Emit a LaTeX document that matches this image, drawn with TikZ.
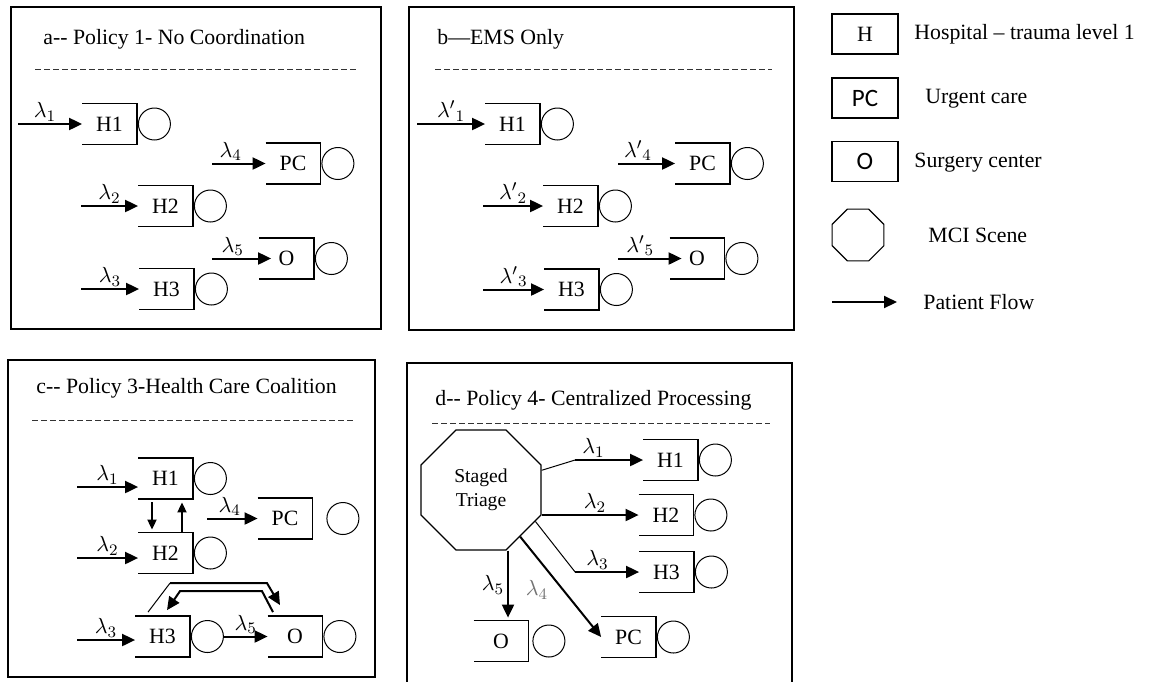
\documentclass[tikz,border=0pt]{standalone}
\usepackage{fontspec}
\setmainfont{Liberation Serif}
\newfontfamily\legsans{Carlito}
\usetikzlibrary{positioning,arrows.meta,shapes.geometric}
\tikzset{
  panel/.style={draw=black, line width=1pt},
  ttl/.style={anchor=base west, inner sep=0pt, font=\fontsize{10.9}{13}\selectfont},
  sepline/.style={draw=black!80, line width=0.5pt, dash pattern=on 3pt off 1.5pt},
  qbox/.style={minimum width=27pt, minimum height=20pt, inner sep=0pt,
               font=\fontsize{10.9}{13}\selectfont},
  qline/.style={draw=black, line width=0.7pt},
  srv/.style={circle, draw=black, line width=0.5pt, minimum size=16pt, inner sep=0pt},
  flow/.style={-{Triangle[length=6.5pt,width=6pt]}, line width=1pt, black},
  flowsm/.style={-{Triangle[length=5pt,width=4.5pt]}, line width=0.9pt, black},
  thinl/.style={line width=0.5pt, black},
  lam/.style={inner sep=1pt, font=\fontsize{10.9}{13}\selectfont},
  legbox/.style={draw=black, line width=0.6pt, minimum width=33pt, minimum height=20pt,
                 inner sep=0pt, font=\legsans\fontsize{12.5}{15}\selectfont},
  legtxt/.style={anchor=west, inner sep=0pt, font=\fontsize{10.9}{13}\selectfont},
  octa/.style={regular polygon, regular polygon sides=8, draw=black, line width=0.6pt,
               inner sep=0pt}
}
% open-left queue box with its server circle
\newcommand{\queue}[5][0.5pt]{%
  \node[qbox] (#2) at (#3,#4) {#5};
  \draw[qline] (#2.north west) -- (#2.north east) -- (#2.south east) -- (#2.south west);
  \node[srv, right=#1 of #2] (#2s) {};
}
\newcommand{\dd}{-\kern0pt-}

\begin{document}
\begin{tikzpicture}[x=0.5pt, y=-0.5pt]
  \useasboundingbox (0,0) rectangle (1149,681);

  % ---- a: no coordination
  \draw[panel] (11,7) rectangle (381,329);
  \node[ttl] (aT) at (43,44) {a\dd{} Policy 1- No Coordination};
  \draw[sepline] (35,69) -- (359,69);
  \queue{aH1}{109.5}{124}{H1}
  \queue{aPC}{293}{163.5}{PC}
  \queue{aH2}{165.5}{206}{H2}
  \queue{aO}{286.5}{258.5}{O}
  \queue{aH3}{166.5}{289}{H3}
  \coordinate (aIn1) at (18,124);
  \coordinate (aIn4) at (212,163.5);
  \coordinate (aIn2) at (81,206);
  \coordinate (aIn5) at (212,258.5);
  \coordinate (aIn3) at (81,289);
  \draw[flow] (aIn1) -- (aH1.west) node[lam, pos=0.42, above] (aL1) {$\lambda_1$};
  \draw[flow] (aIn4) -- (aPC.west) node[lam, pos=0.35, above] (aL4) {$\lambda_4$};
  \draw[flow] (aIn2) -- (aH2.west) node[lam, midway, above] (aL2) {$\lambda_2$};
  \draw[flow] (aIn5) -- ([xshift=6pt]aO.west) node[lam, pos=0.35, above] (aL5) {$\lambda_5$};
  \draw[flow] (aIn3) -- (aH3.west) node[lam, midway, above] (aL3) {$\lambda_3$};

  % ---- b: EMS only
  \draw[panel] (409,7) rectangle (794,330);
  \node[ttl] (bT) at (437,44) {b—EMS Only};
  \draw[sepline] (435,69) -- (772,69);
  \queue{bH1}{512.5}{124}{H1}
  \queue{bPC}{702.5}{163.5}{PC}
  \queue{bH2}{570.5}{206}{H2}
  \queue{bO}{697}{258.5}{O}
  \queue{bH3}{571.5}{289.5}{H3}
  \coordinate (bIn1) at (417,124);
  \coordinate (bIn4) at (618,163.5);
  \coordinate (bIn2) at (483,206);
  \coordinate (bIn5) at (618,258.5);
  \coordinate (bIn3) at (483,289.5);
  \draw[flow] (bIn1) -- (bH1.west) node[lam, midway, above] (bL1) {$\lambda'{}_1$};
  \draw[flow] (bIn4) -- (bPC.west) node[lam, pos=0.35, above] (bL4) {$\lambda'{}_4$};
  \draw[flow] (bIn2) -- (bH2.west) node[lam, midway, above] (bL2) {$\lambda'{}_2$};
  \draw[flow] (bIn5) -- ([xshift=6pt]bO.west) node[lam, pos=0.35, above] (bL5) {$\lambda'{}_5$};
  \draw[flow] (bIn3) -- (bH3.west) node[lam, midway, above] (bL3) {$\lambda'{}_3$};

  % ---- c: health care coalition
  \draw[panel] (8,360) rectangle (375,677);
  \node[ttl] (cT) at (36,393) {c\dd{} Policy 3-Health Care Coalition};
  \draw[sepline] (32,420) -- (353,420);
  \queue{cH1}{165.5}{478.5}{H1}
  \queue{cH2}{165.5}{553}{H2}
  \queue[7pt]{cPC}{285}{518.5}{PC}
  \queue{cH3}{162.5}{636.5}{H3}
  \queue{cO}{295}{636.5}{O}
  \coordinate (cIn1) at (77,487);
  \coordinate (cIn2) at (77,558);
  \coordinate (cIn4) at (207,518.5);
  \coordinate (cIn3) at (77,640);
  \draw[flow] (cIn1) -- ([yshift=-4.25pt]cH1.west) node[lam, midway, above] (cL1) {$\lambda_1$};
  \draw[flow] (cIn2) -- ([yshift=-2.5pt]cH2.west) node[lam, midway, above] (cL2) {$\lambda_2$};
  \draw[flow] (cIn4) -- (cPC.west) node[lam, pos=0.45, above] (cL4) {$\lambda_4$};
  \draw[flow] (cIn3) -- ([yshift=-1.75pt]cH3.west) node[lam, midway, above] (cL3) {$\lambda_3$};
  \draw[flowsm] ([xshift=-6.75pt,yshift=-1.75pt]cH1.south) -- ([xshift=-6.75pt,yshift=1.5pt]cH2.north);
  \draw[flowsm] ([xshift=8.25pt]cH2.north) -- ([xshift=8.25pt,yshift=-1.75pt]cH1.south);
  \draw[flow] (cH3s.east) -- (cO.west) node[lam, midway, above] (cL5) {$\lambda_5$};
  \draw[thinl] ([xshift=-7.25pt,yshift=2pt]cH3.north) -- ++(22,-29) coordinate (cUp);
  \draw[flow] (cUp) -- ++(97,0) -- ([xshift=-7.5pt,yshift=5.5pt]cO.north);
  \draw[flow] ([xshift=-11pt,yshift=2pt]cO.north) -- ++(-11,-21) -- ++(-82,0)
              -- ([xshift=2.25pt,yshift=3pt]cH3.north);

  % ---- d: centralized processing
  \draw[panel] (407,363) rectangle (792,684);
  \node[ttl] (dT) at (435,405) {d\dd{} Policy 4- Centralized Processing};
  \draw[sepline] (432,423) -- (770,423);
  \node[octa, minimum size=65pt, align=center,
        font=\fontsize{9.8}{12}\selectfont] (triage) at (481,490) {Staged\\Triage};
  \queue{dH1}{670.5}{460}{H1}
  \queue{dH2}{666}{515}{H2}
  \queue{dH3}{666.5}{572}{H3}
  \queue[2pt]{dO}{501}{641}{O}
  \queue{dPC}{628.5}{637}{PC}
  \coordinate (dB1) at ([xshift=-34pt]dH1.west);
  \coordinate (dB3) at ([xshift=-32pt]dH3.west);
  \coordinate (dT5) at ([xshift=3.5pt,yshift=1.5pt]dO.north);
  \draw[thinl] (triage.18) -- (dB1);
  \draw[flow] (dB1) -- (dH1.west) node[lam, pos=0.27, above] (dL1) {$\lambda_1$};
  \draw[flow] (triage.east |- dH2.west) -- (dH2.west) node[lam, pos=0.55, above] (dL2) {$\lambda_2$};
  \draw[thinl] (triage.-30) -- (dB3);
  \draw[flow] (dB3) -- (dH3.west) node[lam, pos=0.35, above] (dL3) {$\lambda_3$};
  \draw[flow] (dT5 |- triage.south) -- (dT5);
  \draw[flow] (triage.-50) -- (dPC.west);
  \node[lam] (dL5) at (493,585) {$\lambda_5$};
  \node[lam, text=black!55] (dL4) at (537,590) {$\lambda_4$};

  % ---- legend
  \node[legbox, font=\fontsize{10.9}{13}\selectfont] (legH) at (865,34) {H};
  \node[legbox] (legPC) at (865,98) {PC};
  \node[legbox] (legO) at (865,161.5) {O};
  \node[octa, minimum size=28pt] (legOct) at (858,235) {};
  \coordinate (legA) at (832,302);
  \coordinate (legB) at (897,302);
  \draw[flow] (legA) -- (legB);
  \node[legtxt] (legHt) at (914,34) {Hospital – trauma level 1};
  \node[legtxt] (legPCt) at (925,99) {Urgent care};
  \node[legtxt] (legOt) at (914,163) {Surgery center};
  \node[legtxt] (legOctt) at (928,235) {MCI Scene};
  \node[legtxt] (legBt) at (923,302) {Patient Flow};
\end{tikzpicture}
\end{document}
